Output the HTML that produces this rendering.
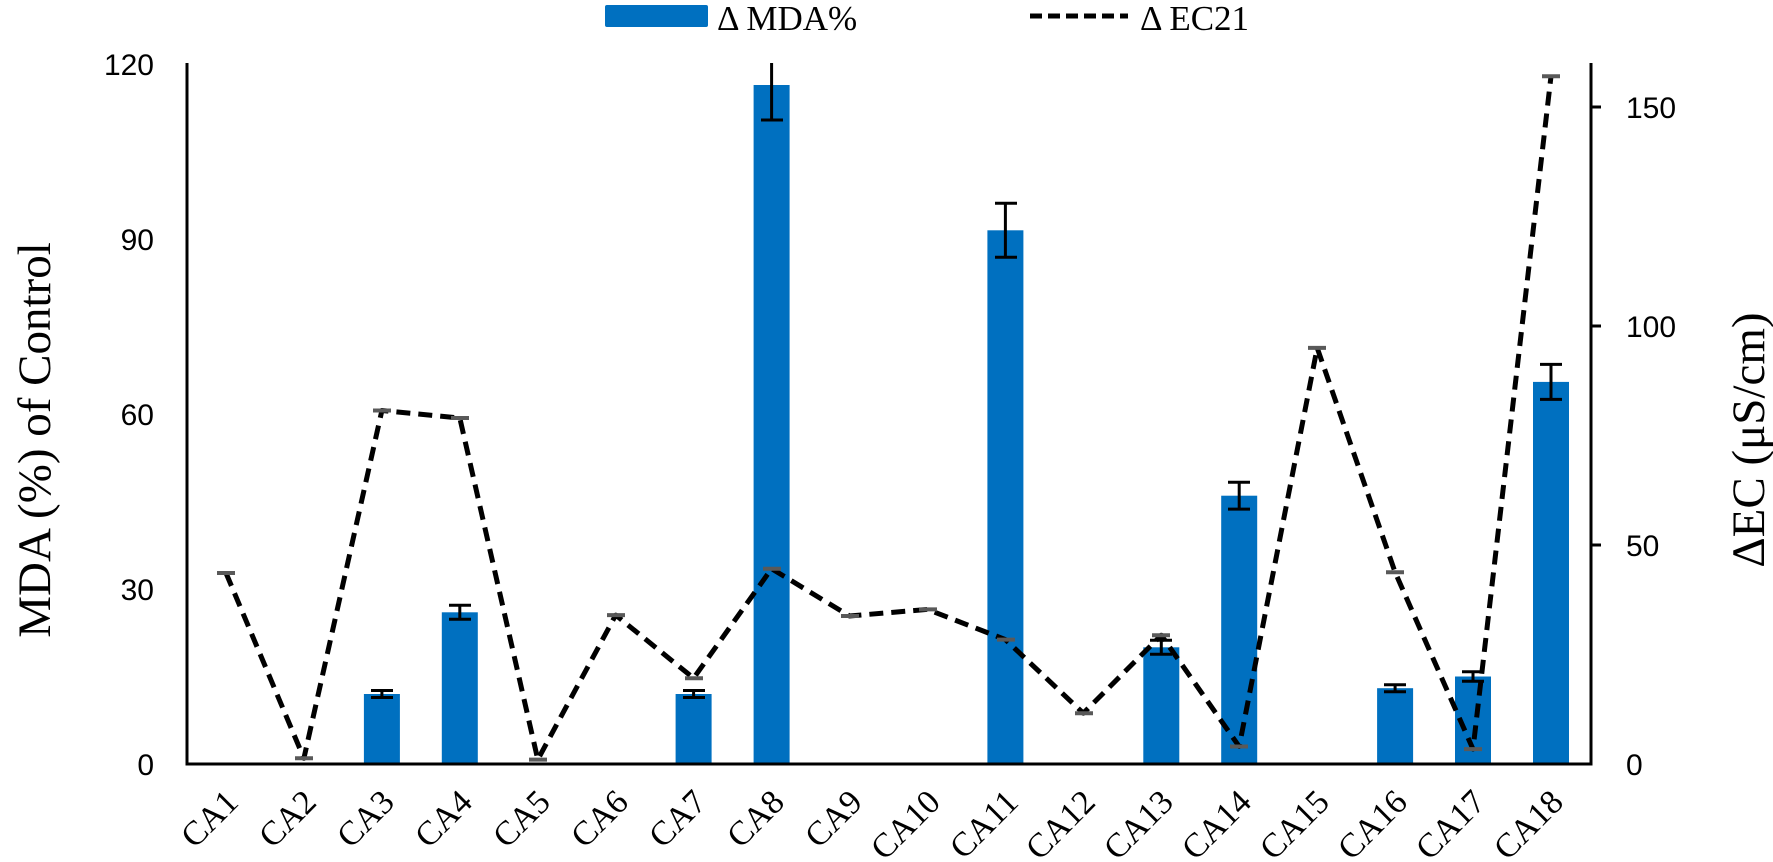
<!DOCTYPE html>
<html><head><meta charset="utf-8"><style>
html,body{margin:0;padding:0;background:#fff;}
svg{display:block;}
.tk{font-family:"Liberation Sans",sans-serif;font-size:30px;fill:#000;}
.sr{font-family:"Liberation Serif",serif;fill:#000;}
</style></head><body>
<svg width="1773" height="862" viewBox="0 0 1773 862" xmlns="http://www.w3.org/2000/svg">
<rect width="1773" height="862" fill="#fff"/>
<!-- legend -->
<rect x="605" y="5" width="103" height="22" rx="2" fill="#0070C0"/>
<text x="717" y="30" class="sr" font-size="35">Δ MDA%</text>
<line x1="1030" y1="16" x2="1128" y2="16" stroke="#000" stroke-width="5" stroke-dasharray="12 6"/>
<text x="1140" y="30" class="sr" font-size="35">Δ EC21</text>

<!-- bars -->
<g fill="#0070C0">
<rect x="363.9" y="694.0" width="36" height="70"/>
<rect x="441.8" y="612.3" width="36" height="151.7"/>
<rect x="675.6" y="694.0" width="36" height="70"/>
<rect x="753.6" y="85.0" width="36" height="679"/>
<rect x="987.4" y="230.3" width="36" height="533.7"/>
<rect x="1143.3" y="647.3" width="36" height="116.7"/>
<rect x="1221.2" y="495.7" width="36" height="268.3"/>
<rect x="1377.1" y="688.2" width="36" height="75.8"/>
<rect x="1455.0" y="676.5" width="36" height="87.5"/>
<rect x="1533.0" y="381.9" width="36" height="382.1"/>
</g>
<!-- error bars -->
<g stroke="#000" stroke-width="3" fill="none">
<path d="M381.9 690.5V697.5M371 690.5H393M371 697.5H393"/>
<path d="M459.8 605.3V619.3M449 605.3H471M449 619.3H471"/>
<path d="M693.6 690.5V697.5M683 690.5H705M683 697.5H705"/>
<path d="M771.6 63V120M761 120H783"/>
<path d="M1005.4 203.3V257.3M995 203.3H1017M995 257.3H1017"/>
<path d="M1161.3 640.3V654.3M1150 640.3H1172M1150 654.3H1172"/>
<path d="M1239.2 482.3V509.1M1228 482.3H1250M1228 509.1H1250"/>
<path d="M1395.1 684.7V691.7M1384 684.7H1406M1384 691.7H1406"/>
<path d="M1473.0 671.8V681.2M1462 671.8H1484M1462 681.2H1484"/>
<path d="M1551.0 364.4V399.4M1540 364.4H1562M1540 399.4H1562"/>
</g>
<!-- EC line -->
<polyline fill="none" stroke="#000" stroke-width="5" stroke-dasharray="14 8" stroke-linejoin="round"
points="226.0,573.0 303.9,758.3 381.9,410.5 459.8,418.0 537.8,759.6 615.7,615.1 693.6,678.2 771.6,568.7 849.5,616.0 927.5,609.4 1005.4,639.6 1083.3,713.2 1161.3,635.2 1239.2,746.5 1317.2,347.9 1395.1,572.2 1473.0,749.1 1551.0,76.3"/>
<g stroke="#595959" stroke-width="4">
<path d="M217 573H235M295 758.3H313M373 410.5H391M451 418H469M529 759.6H547M607 615.1H625M685 678.2H703M763 568.7H781M841 616H859M919 609.4H937M997 639.6H1015M1075 713.2H1093M1152 635.2H1170M1230 746.5H1248M1308 347.9H1326M1386 572.2H1404M1464 749.1H1482M1542 76.3H1560"/>
</g>

<!-- axes -->
<g stroke="#000" stroke-width="3" fill="none">
<path d="M187 63V765.5"/>
<path d="M185.5 764H1592.5"/>
<path d="M1591 63V765.5"/>
<path d="M1591 107H1601M1591 326H1601M1591 545H1601"/>
</g>
<!-- left ticks -->
<g class="tk" text-anchor="end">
<text x="154" y="75">120</text>
<text x="154" y="250">90</text>
<text x="154" y="425">60</text>
<text x="154" y="600">30</text>
<text x="154" y="775">0</text>
</g>
<g class="tk" text-anchor="start">
<text x="1626" y="118">150</text>
<text x="1626" y="337">100</text>
<text x="1626" y="556">50</text>
<text x="1626" y="775">0</text>
</g>
<!-- axis titles -->
<text class="sr" font-size="47" text-anchor="middle" transform="translate(50,440) rotate(-90)">MDA (%) of Control</text>
<text class="sr" font-size="47" text-anchor="middle" transform="translate(1764,440) rotate(-90)">ΔEC (μS/cm)</text>
<!-- x labels -->
<g class="sr" font-size="34" text-anchor="end">
<text transform="translate(240,804) rotate(-45)">CA1</text>
<text transform="translate(318,804) rotate(-45)">CA2</text>
<text transform="translate(396,804) rotate(-45)">CA3</text>
<text transform="translate(474,804) rotate(-45)">CA4</text>
<text transform="translate(552,804) rotate(-45)">CA5</text>
<text transform="translate(630,804) rotate(-45)">CA6</text>
<text transform="translate(708,804) rotate(-45)">CA7</text>
<text transform="translate(786,804) rotate(-45)">CA8</text>
<text transform="translate(864,804) rotate(-45)">CA9</text>
<text transform="translate(942,804) rotate(-45)">CA10</text>
<text transform="translate(1020,804) rotate(-45)">CA11</text>
<text transform="translate(1097,804) rotate(-45)">CA12</text>
<text transform="translate(1175,804) rotate(-45)">CA13</text>
<text transform="translate(1253,804) rotate(-45)">CA14</text>
<text transform="translate(1331,804) rotate(-45)">CA15</text>
<text transform="translate(1409,804) rotate(-45)">CA16</text>
<text transform="translate(1487,804) rotate(-45)">CA17</text>
<text transform="translate(1565,804) rotate(-45)">CA18</text>
</g>
</svg>
</body></html>
